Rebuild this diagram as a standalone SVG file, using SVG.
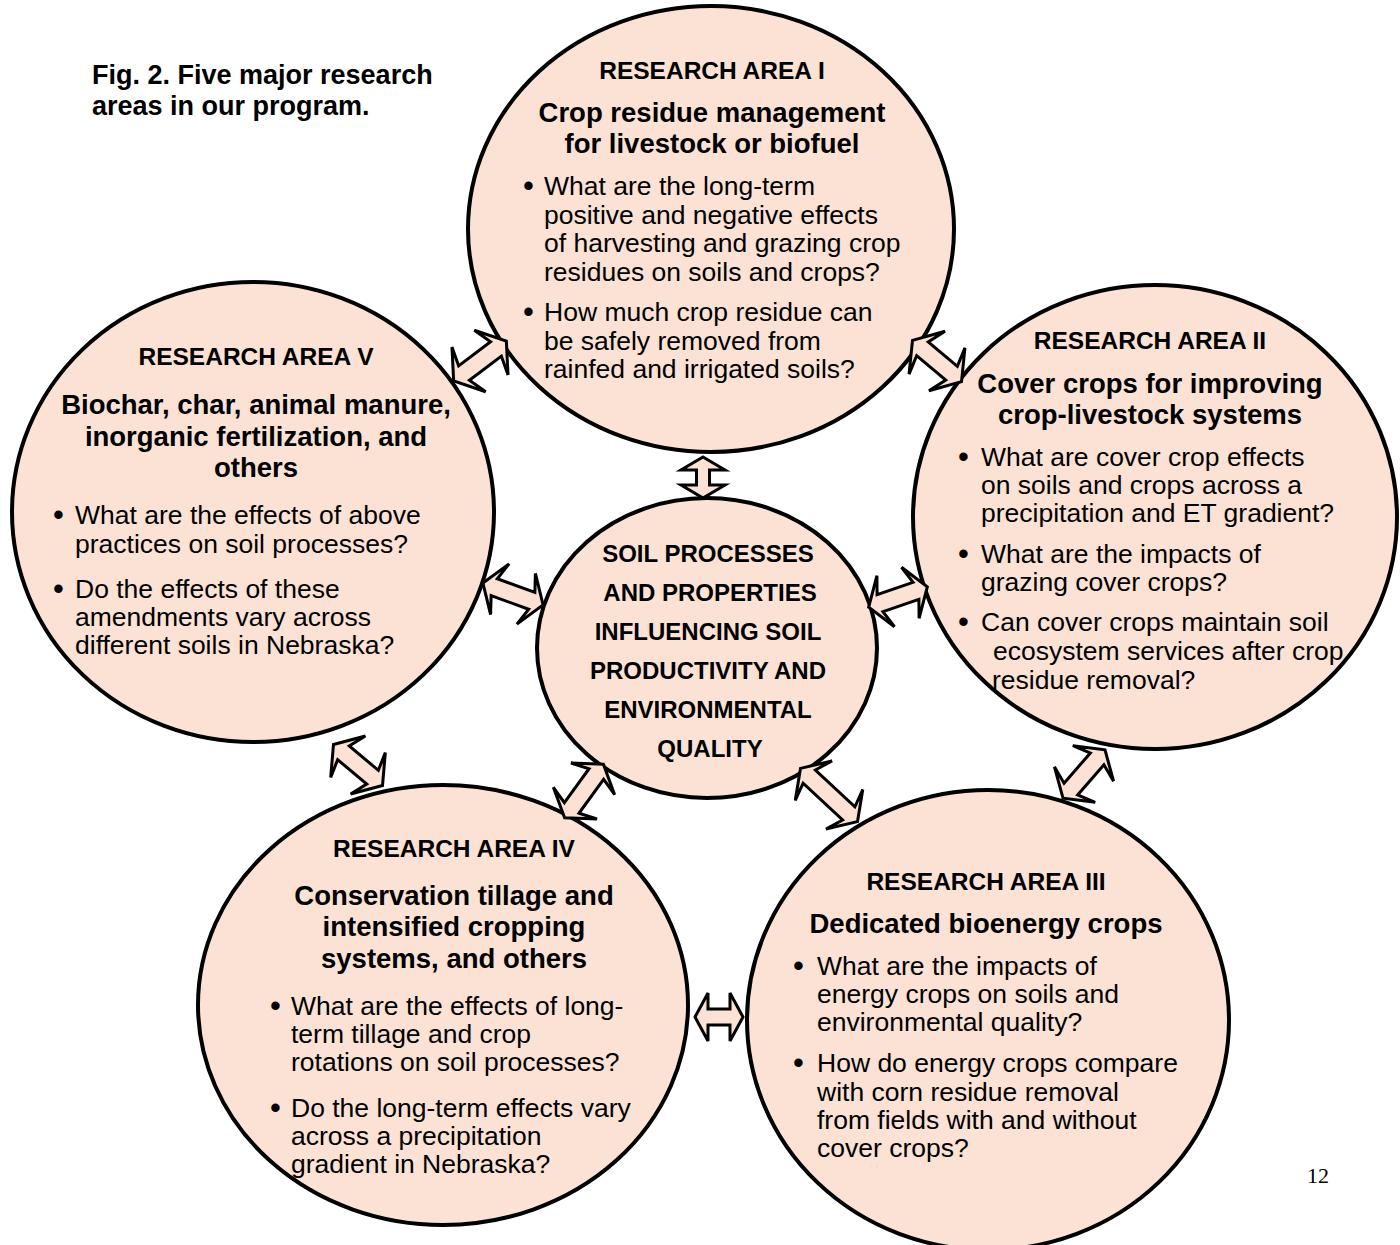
<svg xmlns="http://www.w3.org/2000/svg" width="1400" height="1245" viewBox="0 0 1400 1245">
<style>
.c{fill:#FBE2D5;stroke:#000;stroke-width:4}
.a{fill:#FBE2D5;stroke:#000;stroke-width:3;stroke-linejoin:miter}
text{font-family:"Liberation Sans",Arial,sans-serif;fill:#000}
.h{font-weight:bold;font-size:24.5px;text-anchor:middle}
.s{font-weight:bold;font-size:27.5px;text-anchor:middle}
.b{font-size:26.5px}
.d{font-size:31px}
.m{font-weight:bold;font-size:24px;text-anchor:middle}
.cap{font-weight:bold;font-size:27px}
</style>
<rect width="1400" height="1245" fill="#fff"/>
<text class="cap" x="92" y="84">Fig. 2. Five major research</text>
<text class="cap" x="92" y="115">areas in our program.</text>
<text x="1307" y="1183" style="font-family:'Liberation Serif','Times New Roman',serif;font-size:22px">12</text>

<g id="area1">
<ellipse class="c" cx="711" cy="229" rx="243" ry="223"/>
<text class="h" x="712" y="79">RESEARCH AREA I</text>
<text class="s" x="712" y="122">Crop residue management</text>
<text class="s" x="712" y="153">for livestock or biofuel</text>
<text class="d" x="523" y="196">•</text>
<text class="b" x="544" y="195">What are the long-term</text>
<text class="b" x="544" y="224">positive and negative effects</text>
<text class="b" x="544" y="252">of harvesting and grazing crop</text>
<text class="b" x="544" y="281">residues on soils and crops?</text>
<text class="d" x="523" y="322">•</text>
<text class="b" x="544" y="321">How much crop residue can</text>
<text class="b" x="544" y="350">be safely removed from</text>
<text class="b" x="544" y="378">rainfed and irrigated soils?</text>
</g>

<g id="area2">
<ellipse class="c" cx="1155" cy="517" rx="242" ry="232"/>
<text class="h" x="1150" y="349">RESEARCH AREA II</text>
<text class="s" x="1150" y="393">Cover crops for improving</text>
<text class="s" x="1150" y="424">crop-livestock systems</text>
<text class="d" x="958" y="467">•</text>
<text class="b" x="981" y="466">What are cover crop effects</text>
<text class="b" x="981" y="494">on soils and crops across a</text>
<text class="b" x="981" y="522">precipitation and ET gradient?</text>
<text class="d" x="958" y="564">•</text>
<text class="b" x="981" y="563">What are the impacts of</text>
<text class="b" x="981" y="591">grazing cover crops?</text>
<text class="d" x="958" y="632">•</text>
<text class="b" x="981" y="631">Can cover crops maintain soil</text>
<text class="b" x="993" y="660">ecosystem services after crop</text>
<text class="b" x="992" y="689">residue removal?</text>
</g>

<g id="area5">
<ellipse class="c" cx="253" cy="512" rx="241" ry="230"/>
<text class="h" x="256" y="365">RESEARCH AREA V</text>
<text class="s" x="256" y="414">Biochar, char, animal manure,</text>
<text class="s" x="256" y="446">inorganic fertilization, and</text>
<text class="s" x="256" y="477">others</text>
<text class="d" x="53" y="525">•</text>
<text class="b" x="75" y="524">What are the effects of above</text>
<text class="b" x="75" y="553">practices on soil processes?</text>
<text class="d" x="53" y="599">•</text>
<text class="b" x="75" y="598">Do the effects of these</text>
<text class="b" x="75" y="626">amendments vary across</text>
<text class="b" x="75" y="654">different soils in Nebraska?</text>
</g>

<g id="center">
<ellipse class="c" cx="707" cy="648" rx="170" ry="150"/>
<text class="m" x="708" y="562">SOIL PROCESSES</text>
<text class="m" x="710" y="601">AND PROPERTIES</text>
<text class="m" x="708" y="640">INFLUENCING SOIL</text>
<text class="m" x="708" y="679">PRODUCTIVITY AND</text>
<text class="m" x="708" y="718">ENVIRONMENTAL</text>
<text class="m" x="710" y="757">QUALITY</text>
</g>

<g id="area4">
<ellipse class="c" cx="443" cy="1005" rx="245" ry="220"/>
<text class="h" x="454" y="857">RESEARCH AREA IV</text>
<text class="s" x="454" y="905">Conservation tillage and</text>
<text class="s" x="454" y="936">intensified cropping</text>
<text class="s" x="454" y="968">systems, and others</text>
<text class="d" x="270" y="1016">•</text>
<text class="b" x="291" y="1015">What are the effects of long-</text>
<text class="b" x="291" y="1043">term tillage and crop</text>
<text class="b" x="291" y="1071">rotations on soil processes?</text>
<text class="d" x="270" y="1118">•</text>
<text class="b" x="291" y="1117">Do the long-term effects vary</text>
<text class="b" x="291" y="1145">across a precipitation</text>
<text class="b" x="291" y="1173">gradient in Nebraska?</text>
</g>

<g id="area3">
<ellipse class="c" cx="988" cy="1020" rx="241" ry="230"/>
<text class="h" x="986" y="890">RESEARCH AREA III</text>
<text class="s" x="986" y="933">Dedicated bioenergy crops</text>
<text class="d" x="793" y="976">•</text>
<text class="b" x="817" y="975">What are the impacts of</text>
<text class="b" x="817" y="1003">energy crops on soils and</text>
<text class="b" x="817" y="1031">environmental quality?</text>
<text class="d" x="793" y="1073">•</text>
<text class="b" x="817" y="1072">How do energy crops compare</text>
<text class="b" x="817" y="1101">with corn residue removal</text>
<text class="b" x="817" y="1129">from fields with and without</text>
<text class="b" x="817" y="1157">cover crops?</text>
</g>

<g id="connectors">
<path class="a" transform="translate(480,361) rotate(-37)" d="M -33,0 L -14,-28 L -20,-9 L 20,-9 L 14,-28 L 33,0 L 14,28 L 20,9 L -20,9 L -14,28 Z"/>
<path class="a" transform="translate(937,361) rotate(40)" d="M -32,0 L -13,-28 L -19,-9 L 19,-9 L 13,-28 L 32,0 L 13,28 L 19,9 L -19,9 L -13,28 Z"/>
<path class="a" transform="translate(703,477.5) rotate(90)" d="M -20.5,0 L -7.5,-22 L -7.5,-6.5 L 7.5,-6.5 L 7.5,-22 L 20.5,0 L 7.5,22 L 7.5,6.5 L -7.5,6.5 L -7.5,22 Z"/>
<path class="a" transform="translate(513,594) rotate(20)" d="M -32,0 L -14,-27 L -20,-9 L 20,-9 L 14,-27 L 32,0 L 14,27 L 20,9 L -20,9 L -14,27 Z"/>
<path class="a" transform="translate(898,597) rotate(-19)" d="M -31,0 L -13,-27 L -19,-9 L 19,-9 L 13,-27 L 31,0 L 13,27 L 19,9 L -19,9 L -13,27 Z"/>
<path class="a" transform="translate(358,765) rotate(40)" d="M -32,0 L -13,-27 L -19,-9 L 19,-9 L 13,-27 L 32,0 L 13,27 L 19,9 L -19,9 L -13,27 Z"/>
<path class="a" transform="translate(584,791) rotate(-54)" d="M -33,0 L -15,-27 L -21,-9 L 21,-9 L 15,-27 L 33,0 L 15,27 L 21,9 L -21,9 L -15,27 Z"/>
<path class="a" transform="translate(829,795) rotate(43)" d="M -39,0 L -21,-27 L -27,-9 L 27,-9 L 21,-27 L 39,0 L 21,27 L 27,9 L -27,9 L -21,27 Z"/>
<path class="a" transform="translate(1084,774) rotate(-49)" d="M -32,0 L -14,-27 L -20,-9 L 20,-9 L 14,-27 L 32,0 L 14,27 L 20,9 L -20,9 L -14,27 Z"/>
<path class="a" transform="translate(719,1017)" d="M -24,0 L -11,-24 L -11,-8 L 11,-8 L 11,-24 L 24,0 L 11,24 L 11,8 L -11,8 L -11,24 Z"/>
</g>
</svg>
